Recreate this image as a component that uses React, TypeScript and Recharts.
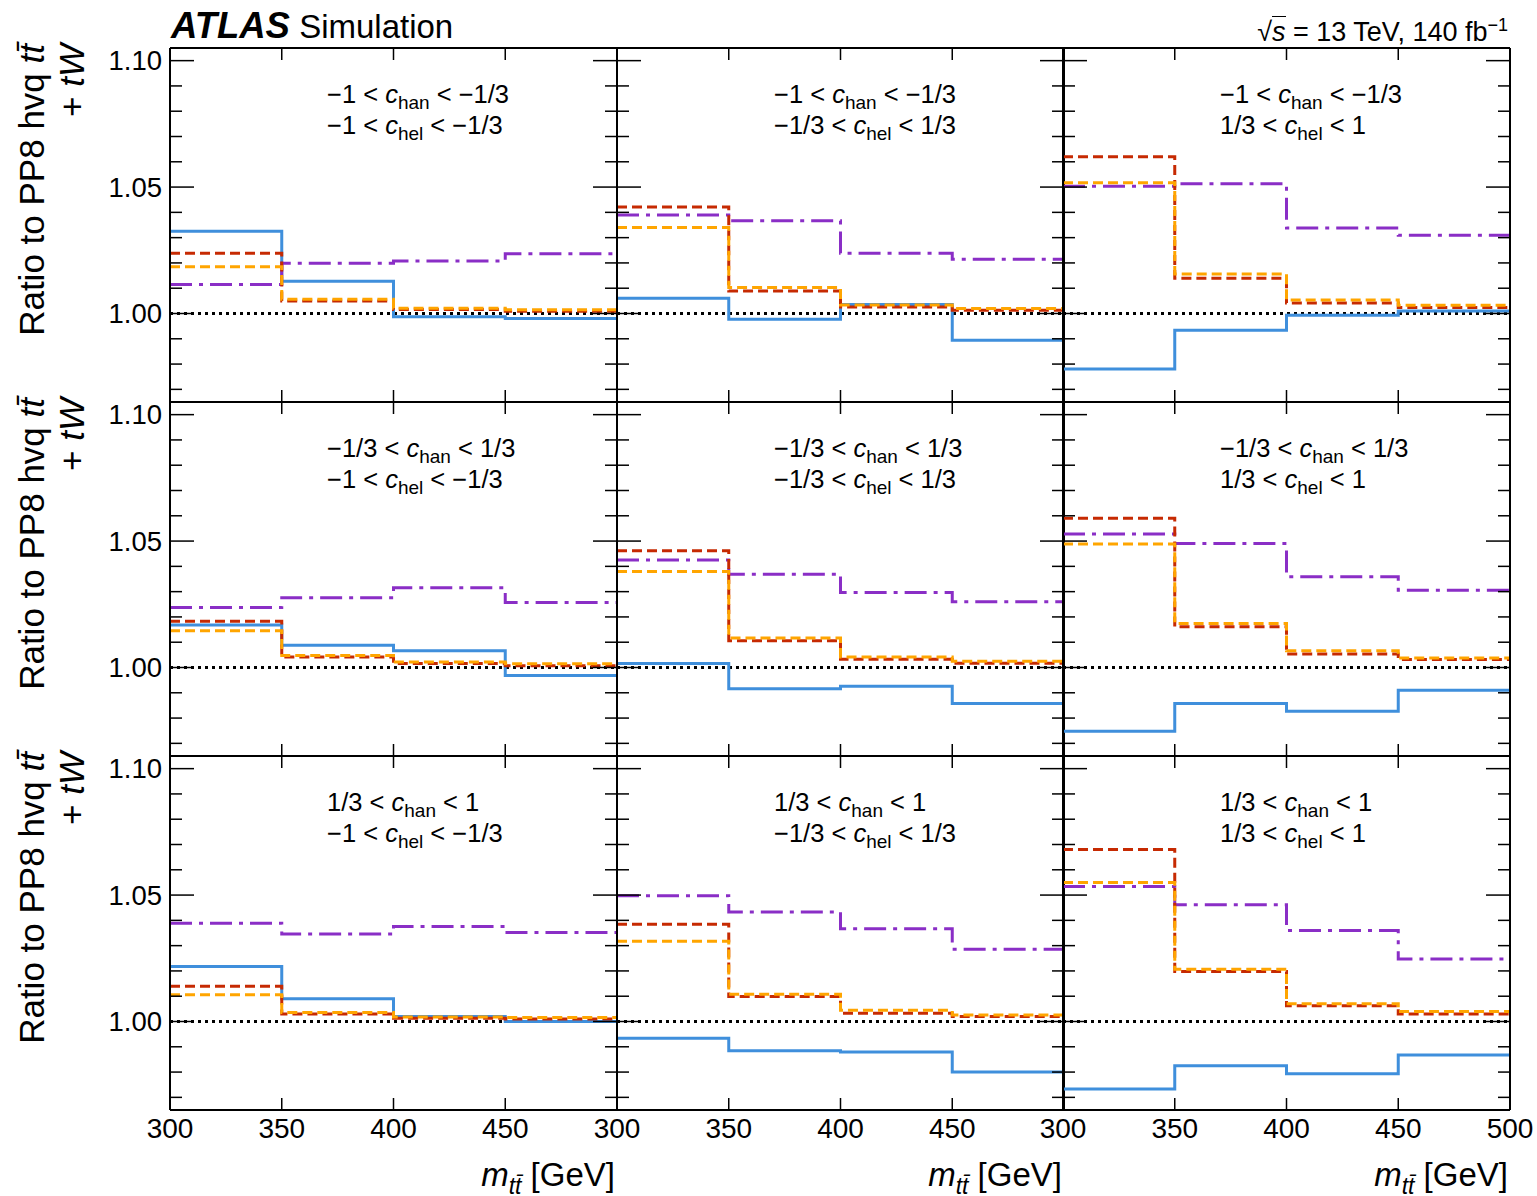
import React from 'react';
import { LineChart, Line, XAxis, YAxis, ReferenceLine } from 'recharts';

// bin edges of m_tt [GeV]; each series has one value per bin
const binEdges = [300, 350, 400, 450, 500];
const xTicks = [300, 350, 400, 450, 500];
const yTicks = [0.97, 0.98, 0.99, 1.0, 1.01, 1.02, 1.03, 1.04, 1.05, 1.06, 1.07, 1.08, 1.09, 1.1];
const yDomain = [0.965, 1.105];

// c_han range per row, c_hel range per column
const hanRanges = [
  ['−1', '−1/3'],
  ['−1/3', '1/3'],
  ['1/3', '1'],
];
const helRanges = [
  ['−1', '−1/3'],
  ['−1/3', '1/3'],
  ['1/3', '1'],
];

// panels in row-major order (row = c_han bin, column = c_hel bin)
const seriesBlue = [
  [1.0325, 1.0128, 0.9987, 0.998],
  [1.006, 0.9977, 1.0036, 0.9894],
  [0.9781, 0.9934, 0.9993, 1.001],
  [1.0168, 1.0088, 1.0066, 0.9968],
  [1.0016, 0.9916, 0.9926, 0.9858],
  [0.9748, 0.9858, 0.9827, 0.991],
  [1.0218, 1.009, 1.002, 1.0],
  [0.9934, 0.9884, 0.9879, 0.98],
  [0.9733, 0.9825, 0.9793, 0.9868],
];
const seriesRed = [
  [1.0238, 1.0049, 1.0016, 1.0009],
  [1.0421, 1.0089, 1.0026, 1.0013],
  [1.062, 1.0139, 1.0042, 1.0024],
  [1.0183, 1.0042, 1.0016, 1.0007],
  [1.0462, 1.0106, 1.0033, 1.0017],
  [1.059, 1.0161, 1.0053, 1.0032],
  [1.0139, 1.003, 1.0013, 1.001],
  [1.0385, 1.0099, 1.0033, 1.002],
  [1.068, 1.0198, 1.0062, 1.003],
];
const seriesOrange = [
  [1.0185, 1.0056, 1.0021, 1.0015],
  [1.034, 1.0103, 1.0034, 1.002],
  [1.0517, 1.0156, 1.0053, 1.0033],
  [1.0145, 1.0047, 1.0022, 1.0015],
  [1.038, 1.0117, 1.0042, 1.0025],
  [1.0488, 1.0174, 1.0066, 1.0038],
  [1.0106, 1.0036, 1.0018, 1.0016],
  [1.0317, 1.0108, 1.0044, 1.0026],
  [1.055, 1.0207, 1.007, 1.004],
];
const seriesPurple = [
  [1.0115, 1.0199, 1.0208, 1.0236],
  [1.039, 1.0367, 1.0238, 1.0215],
  [1.0503, 1.0513, 1.0338, 1.0309],
  [1.0237, 1.0276, 1.0315, 1.0257],
  [1.0425, 1.0369, 1.0297, 1.026],
  [1.0528, 1.049, 1.0359, 1.0306],
  [1.0389, 1.0346, 1.0376, 1.0352],
  [1.0497, 1.0433, 1.0367, 1.0286],
  [1.0534, 1.0462, 1.036, 1.0247],
];

const FONT = '"Liberation Sans", Arial, Helvetica, sans-serif';
const PANEL_W = 447;
const PANEL_H = 354;
const colLefts = [170, 617, 1063];
const rowTops = [48, 402, 756];
const PAD_L = 70;
const PAD_R = 30;
const PAD_T = 10;
const PAD_B = 45;

const isMajor = (v: number) => Math.round(v * 100) % 5 === 0;

function YTick(props: any) {
  const { x, y, payload, dir, showLabel } = props;
  const major = isMajor(payload.value);
  const len = major ? 24 : 12;
  return (
    <g>
      <line x1={x} x2={x + dir * len} y1={y} y2={y} stroke="#000" strokeWidth={1.5} />
      {showLabel && major && (
        <text
          x={x - 8}
          y={y}
          textAnchor="end"
          dominantBaseline="central"
          fontSize={27.5}
          fontFamily={FONT}
          fill="#000"
        >
          {payload.value.toFixed(2)}
        </text>
      )}
    </g>
  );
}

function XTick(props: any) {
  const { x, y, payload, dir, showLabel } = props;
  const v = payload.value;
  const edge = v === 300 || v === 500;
  return (
    <g>
      {!edge && <line x1={x} x2={x} y1={y} y2={y + dir * 12} stroke="#000" strokeWidth={1.5} />}
      {showLabel && (
        <text
          x={x}
          y={y + 18}
          textAnchor="middle"
          dominantBaseline="central"
          fontSize={28}
          fontFamily={FONT}
          fill="#000"
        >
          {v}
        </text>
      )}
    </g>
  );
}

const frame = { stroke: '#000', strokeWidth: 2 };
const subStyle = { fontSize: 19, position: 'relative' as const, top: 6, lineHeight: 1 };

function Panel({ idx }: { idx: number }) {
  const r = Math.floor(idx / 3);
  const c = idx % 3;
  const data = binEdges.map((x, i) => {
    const k = Math.min(i, 3);
    return {
      x,
      blue: seriesBlue[idx][k],
      red: seriesRed[idx][k],
      orange: seriesOrange[idx][k],
      purple: seriesPurple[idx][k],
    };
  });
  const bottom = r === 2;
  return (
    <div style={{ position: 'absolute', left: colLefts[c] - PAD_L, top: rowTops[r] - PAD_T }}>
      <LineChart
        width={PAD_L + PANEL_W + PAD_R}
        height={PAD_T + PANEL_H + PAD_B}
        data={data}
        margin={{ top: 0, right: 0, bottom: 0, left: 0 }}
      >
        <XAxis
          dataKey="x"
          type="number"
          domain={[300, 500]}
          ticks={xTicks}
          interval={0}
          allowDataOverflow
          height={PAD_B}
          tickSize={0}
          tickMargin={0}
          tickLine={false}
          axisLine={frame}
          tick={(p: any) => (
            <XTick {...p} dir={-1} showLabel={bottom && (c === 2 || p.payload.value !== 500)} />
          )}
        />
        <XAxis
          xAxisId="top"
          orientation="top"
          dataKey="x"
          type="number"
          domain={[300, 500]}
          ticks={xTicks}
          interval={0}
          allowDataOverflow
          height={PAD_T}
          tickSize={0}
          tickMargin={0}
          tickLine={false}
          axisLine={frame}
          tick={(p: any) => <XTick {...p} dir={1} showLabel={false} />}
        />
        <YAxis
          type="number"
          domain={yDomain}
          ticks={yTicks}
          interval={0}
          allowDataOverflow
          width={PAD_L}
          tickSize={0}
          tickMargin={0}
          tickLine={false}
          axisLine={frame}
          tick={(p: any) => <YTick {...p} dir={1} showLabel={c === 0} />}
        />
        <YAxis
          yAxisId="right"
          orientation="right"
          type="number"
          domain={yDomain}
          ticks={yTicks}
          interval={0}
          allowDataOverflow
          width={PAD_R}
          tickSize={0}
          tickMargin={0}
          tickLine={false}
          axisLine={frame}
          tick={(p: any) => <YTick {...p} dir={-1} showLabel={false} />}
        />
        <ReferenceLine y={1} stroke="#000" strokeWidth={3} strokeDasharray="3 4" />
        <Line type="stepAfter" dataKey="blue" stroke="#3f8fdc" strokeWidth={3} dot={false} isAnimationActive={false} />
        <Line type="stepAfter" dataKey="purple" stroke="#8a2ec6" strokeWidth={3} strokeDasharray="22 7 4 7" dot={false} isAnimationActive={false} />
        <Line type="stepAfter" dataKey="red" stroke="#c62a02" strokeWidth={3} strokeDasharray="10 5" dot={false} isAnimationActive={false} />
        <Line type="stepAfter" dataKey="orange" stroke="#ffa500" strokeWidth={3} strokeDasharray="10 5" dot={false} isAnimationActive={false} />
      </LineChart>
      <div
        style={{
          position: 'absolute',
          left: PAD_L + 157,
          top: PAD_T + 31,
          fontFamily: FONT,
          fontSize: 25.5,
          whiteSpace: 'nowrap',
          color: '#000',
        }}
      >
        <div style={{ height: 31, lineHeight: '31px' }}>
          {hanRanges[r][0]} &lt; <i>c</i>
          <span style={subStyle}>han</span> &lt; {hanRanges[r][1]}
        </div>
        <div style={{ height: 31, lineHeight: '31px' }}>
          {helRanges[c][0]} &lt; <i>c</i>
          <span style={subStyle}>hel</span> &lt; {helRanges[c][1]}
        </div>
      </div>
    </div>
  );
}

function YTitle({ row }: { row: number }) {
  const cx = 52;
  const cy = rowTops[row] + 146;
  return (
    <div
      style={{
        position: 'absolute',
        left: cx - 150,
        top: cy - 40,
        width: 300,
        height: 80,
        transform: 'rotate(-90deg)',
        textAlign: 'right',
        fontFamily: FONT,
        fontSize: 35,
        lineHeight: '40px',
        whiteSpace: 'nowrap',
        color: '#000',
      }}
    >
      <div>
        Ratio to PP8 hvq <i>tt̄</i>
      </div>
      <div>
        + <i>tW</i>
      </div>
    </div>
  );
}

function XTitle({ col }: { col: number }) {
  return (
    <div
      style={{
        position: 'absolute',
        right: 1537 - (colLefts[col] + PANEL_W) + 2,
        top: 1155,
        fontFamily: FONT,
        fontSize: 33,
        lineHeight: '40px',
        whiteSpace: 'nowrap',
        color: '#000',
      }}
    >
      <i>m</i>
      <i style={{ fontSize: 23, position: 'relative', top: 8, lineHeight: 1 }}>tt̄</i> [GeV]
    </div>
  );
}

export default function App() {
  return (
    <div style={{ position: 'absolute', left: 0, top: 0, width: 1537, height: 1196, background: '#fff' }}>
      <div
        style={{
          position: 'absolute',
          left: 171,
          top: 6,
          fontFamily: FONT,
          fontSize: 33,
          lineHeight: '40px',
          whiteSpace: 'nowrap',
        }}
      >
        <b>
          <i style={{ fontSize: 36.5 }}>ATLAS</i>
        </b>{' '}
        Simulation
      </div>
      <div
        style={{
          position: 'absolute',
          right: 29,
          top: 8,
          fontFamily: FONT,
          fontSize: 27,
          lineHeight: '34px',
          whiteSpace: 'nowrap',
        }}
      >
        √<span style={{ borderTop: '1.5px solid #000', fontStyle: 'italic' }}>s</span> = 13 TeV, 140 fb
        <sup style={{ fontSize: 18 }}>−1</sup>
      </div>
      {[0, 1, 2].map((r) => (
        <YTitle key={r} row={r} />
      ))}
      {[0, 1, 2, 3, 4, 5, 6, 7, 8].map((i) => (
        <Panel key={i} idx={i} />
      ))}
      {[0, 1, 2].map((c) => (
        <XTitle key={c} col={c} />
      ))}
    </div>
  );
}
